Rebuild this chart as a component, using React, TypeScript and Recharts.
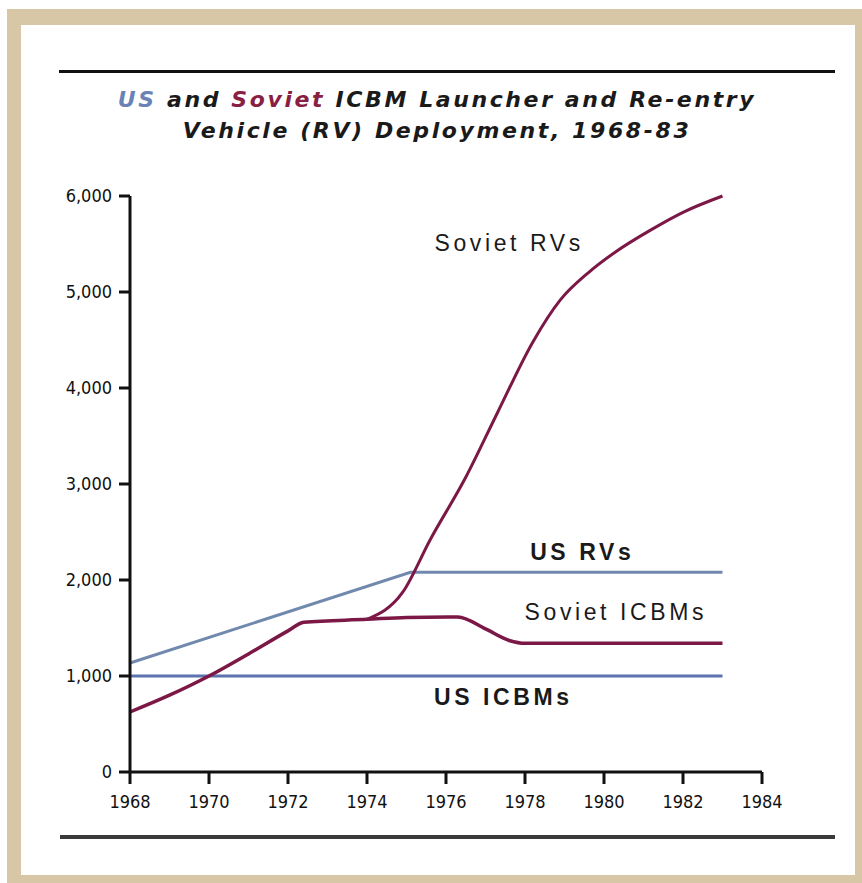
import React from 'react'
import { LineChart, Line, XAxis, YAxis, ReferenceDot } from 'recharts'

// values, per series
const usIcbmYears = [1968, 1983]
const usIcbmValues = [1000, 1000]

const usRvYears = [1968, 1975.1, 1983]
const usRvValues = [1135, 2080, 2080]

const sovietIcbmYears = [1968, 1969, 1970, 1971, 1972, 1972.4, 1974, 1975, 1976.3, 1977, 1977.6, 1978, 1983]
const sovietIcbmValues = [625, 800, 1000, 1230, 1470, 1560, 1590, 1610, 1615, 1490, 1370, 1340, 1340]

const sovietRvYears = [1974, 1974.9, 1975.6, 1976.5, 1977.3, 1978.2, 1978.9, 1979.6, 1980.3, 1981.2, 1982, 1983]
const sovietRvValues = [1590, 1870, 2420, 3070, 3740, 4480, 4920, 5200, 5420, 5650, 5830, 6000]

const xTicks = [1968, 1970, 1972, 1974, 1976, 1978, 1980, 1982, 1984]
const yTicks = [0, 1000, 2000, 3000, 4000, 5000, 6000]

const seriesLabels = [
  { text: 'Soviet RVs', year: 1977.6, value: 5510, bold: false },
  { text: 'US RVs', year: 1979.45, value: 2290, bold: true },
  { text: 'Soviet ICBMs', year: 1980.3, value: 1665, bold: false },
  { text: 'US ICBMs', year: 1977.45, value: 780, bold: true },
]

const zip = (years: number[], values: number[]) =>
  years.map((year, i) => ({ year, value: values[i] }))

const US_BLUE = '#5b73ae'
const US_RV_BLUE = '#7189ad'
const SOVIET = '#7c1846'
const BEIGE = '#d8c7a7'
const tickFont = '"Liberation Sans Narrow", "DejaVu Sans Condensed", "Arial Narrow", sans-serif'

const SeriesLabel = (props: any) => {
  const { viewBox, text, bold } = props
  if (!viewBox) return null
  return (
    <text
      x={viewBox.x + viewBox.width / 2}
      y={viewBox.y + viewBox.height / 2}
      textAnchor="middle"
      dominantBaseline="central"
      fontFamily='"Liberation Sans", Arial, sans-serif'
      fontSize={23}
      fontWeight={bold ? 700 : 400}
      letterSpacing={3.6}
      fill="#1a1a1a"
    >
      {text}
    </text>
  )
}

export default function App() {
  return (
    <div style={{ position: 'absolute', left: 0, top: 0, width: 862, height: 883, background: '#fff' }}>
      <div style={{ position: 'absolute', left: 7, top: 9, width: 855, height: 874, background: BEIGE }} />
      <div style={{ position: 'absolute', left: 21, top: 25, width: 834, height: 850, background: '#fff' }} />

      <div style={{ position: 'absolute', left: 59, top: 70, width: 776, height: 3, background: '#111' }} />
      <div
        style={{
          position: 'absolute',
          left: 37,
          top: 84,
          width: 800,
          textAlign: 'center',
          fontFamily: '"DejaVu Sans", Verdana, sans-serif',
          fontWeight: 700,
          fontStyle: 'italic',
          fontSize: 22,
          lineHeight: '31px',
          letterSpacing: 2.6,
          color: '#1a1a1a',
        }}
      >
        <span style={{ color: '#6a82b4' }}>US</span> and <span style={{ color: '#8a1f44' }}>Soviet</span> ICBM
        Launcher and Re-entry
        <br />
        Vehicle (RV) Deployment, 1968-83
      </div>

      <div style={{ position: 'absolute', left: 0, top: 0 }}>
        <LineChart width={862} height={883} margin={{ top: 196, right: 100, bottom: 71, left: 70 }}>
          <XAxis
            type="number"
            dataKey="year"
            domain={[1968, 1984]}
            ticks={xTicks}
            allowDuplicatedCategory={false}
            height={40}
            stroke="#111"
            strokeWidth={3}
            tickSize={12}
            tickMargin={11}
            tick={{ fill: '#111', fontSize: 18, fontFamily: tickFont }}
          />
          <YAxis
            type="number"
            domain={[0, 6000]}
            ticks={yTicks}
            width={60}
            stroke="#111"
            strokeWidth={3}
            tickSize={11}
            tickMargin={7}
            tickFormatter={(v: number) => v.toLocaleString('en-US')}
            tick={{ fill: '#111', fontSize: 18, fontFamily: tickFont }}
          />
          <Line
            data={zip(usIcbmYears, usIcbmValues)}
            dataKey="value"
            type="linear"
            stroke={US_BLUE}
            strokeWidth={3}
            dot={false}
            isAnimationActive={false}
          />
          <Line
            data={zip(usRvYears, usRvValues)}
            dataKey="value"
            type="linear"
            stroke={US_RV_BLUE}
            strokeWidth={3}
            dot={false}
            isAnimationActive={false}
          />
          <Line
            data={zip(sovietIcbmYears, sovietIcbmValues)}
            dataKey="value"
            type="monotone"
            stroke={SOVIET}
            strokeWidth={3.5}
            dot={false}
            isAnimationActive={false}
          />
          <Line
            data={zip(sovietRvYears, sovietRvValues)}
            dataKey="value"
            type="monotone"
            stroke={SOVIET}
            strokeWidth={3}
            dot={false}
            isAnimationActive={false}
          />
          {seriesLabels.map((l) => (
            <ReferenceDot
              key={l.text}
              x={l.year}
              y={l.value}
              r={0}
              fill="none"
              stroke="none"
              ifOverflow="visible"
              label={<SeriesLabel text={l.text} bold={l.bold} />}
            />
          ))}
        </LineChart>
      </div>

      <div style={{ position: 'absolute', left: 60, top: 835, width: 775, height: 4, background: '#3a3a3a' }} />
    </div>
  )
}
